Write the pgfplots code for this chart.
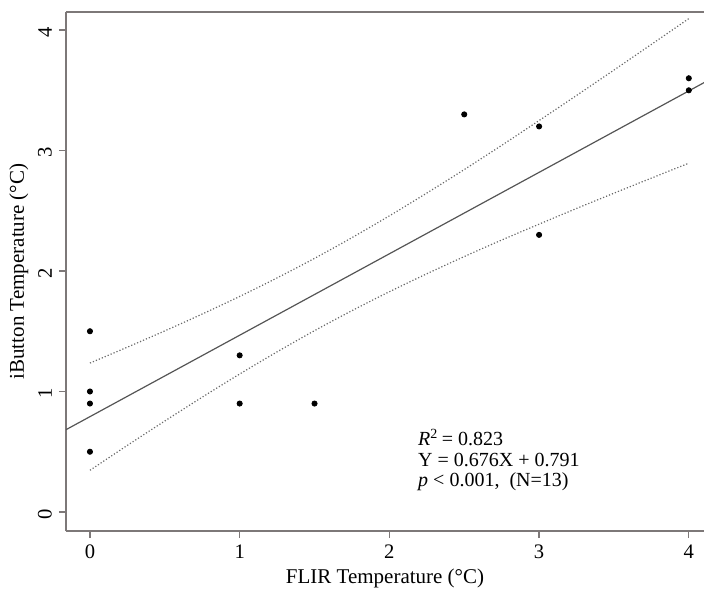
\documentclass[border=0pt]{standalone}
\usepackage{pgfplots}
\pgfplotsset{compat=1.18}
\usepackage{fontspec}
\setmainfont{Liberation Serif}
\definecolor{frame}{RGB}{125,120,120}
\definecolor{regl}{RGB}{85,85,85}
\definecolor{band}{RGB}{105,105,105}
\begin{document}
\begin{tikzpicture}
\useasboundingbox (-33pt,-29pt) rectangle (319pt,265.5pt);
\begin{axis}[
  at={(0,0)}, anchor=south west,
  scale only axis, width=319pt, height=259.5pt,
  xmin=-0.16, xmax=4.1016, ymin=-0.158, ymax=4.15,
  separate axis lines,
  axis x line*=box, axis y line*=left,
  axis line style={frame, line width=0.8pt},
  xtick={0,1,2,3,4}, ytick={0,1,2,3,4},
  xtick pos=bottom, ytick pos=left,
  tick align=outside, major tick length=3.5pt,
  tick style={frame, line width=0.6pt},
  every x tick label/.append style={yshift=0pt},
  yticklabel style={rotate=90, anchor=south, xshift=-1pt},
  ticklabel style={font=\fontsize{10.3}{12}\selectfont},
  /pgf/number format/assume math mode=true,
  xlabel={FLIR Temperature (°C)},
  ylabel={iButton Temperature (°C)},
  label style={font=\fontsize{10.5}{12}\selectfont},
  xlabel style={yshift=2pt},
  ylabel style={yshift=-2pt},
  clip=true,
]
\addplot[only marks, mark=*, mark size=1.3pt, black] coordinates {
  (0,0.5) (0,0.9) (0,1.0) (0,1.5) (1,0.9) (1,1.3) (1.5,0.9)
  (2.5,3.3) (3,3.2) (3,2.3) (4,3.5) (4,3.6)
};
\addplot[regl, line width=0.6pt] coordinates {(-0.16,0.683) (4.16,3.603)};
\addplot[band, densely dotted, line width=0.6pt, smooth] coordinates {
  (0,1.236) (0.25,1.368) (0.5,1.503) (0.75,1.643) (1,1.789) (1.25,1.943)
  (1.5,2.105) (1.75,2.277) (2,2.458) (2.25,2.647) (2.5,2.842) (2.75,3.043)
  (3,3.249) (3.25,3.457) (3.5,3.668) (3.75,3.881) (4,4.095)
};
\addplot[band, densely dotted, line width=0.6pt, smooth] coordinates {
  (0,0.346) (0.25,0.553) (0.5,0.755) (0.75,0.953) (1,1.145) (1.25,1.329)
  (1.5,1.505) (1.75,1.671) (2,1.828) (2.25,1.977) (2.5,2.120) (2.75,2.257)
  (3,2.389) (3.25,2.519) (3.5,2.646) (3.75,2.771) (4,2.895)
};
\node[anchor=north west, align=left, inner sep=0pt,
  font=\fontsize{10}{10.3}\selectfont] at (axis cs:2.19,0.69)
  {\textit{R}\textsuperscript{2}\,= 0.823\\ Y = 0.676X + 0.791\\ \textit{p} <\ 0.001,\ \ (N=13)};
\end{axis}
\end{tikzpicture}
\end{document}
